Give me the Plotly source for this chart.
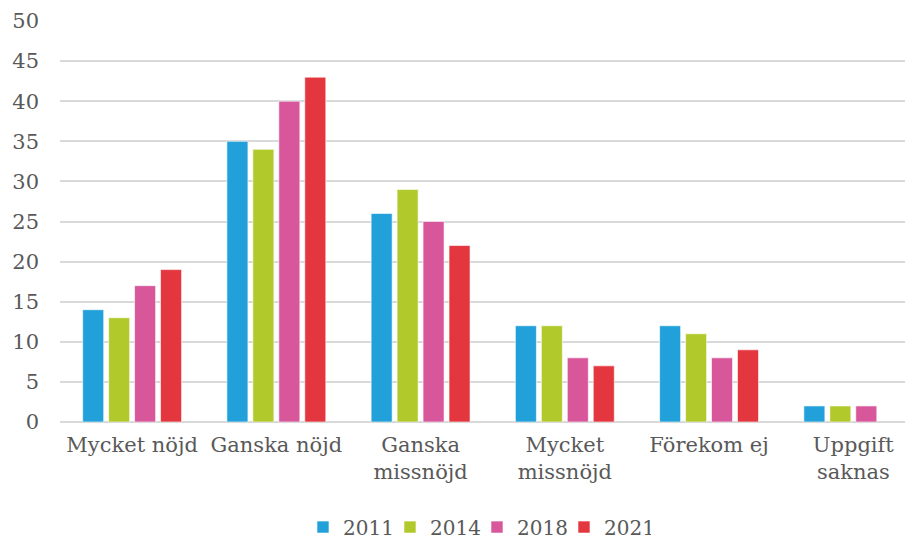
import plotly.graph_objects as go

categories = ["Mycket nöjd", "Ganska nöjd", "Ganska<br>missnöjd", "Mycket<br>missnöjd", "Förekom ej", "Uppgift<br>saknas"]
years = ["2011", "2014", "2018", "2021"]
v2011 = [14, 35, 26, 12, 12, 2]
v2014 = [13, 34, 29, 12, 11, 2]
v2018 = [17, 40, 25, 8, 8, 2]
v2021 = [19, 43, 22, 7, 9, None]
series = [v2011, v2014, v2018, v2021]
colors = ["#22a0d9", "#b1c92b", "#d8569a", "#e3363f"]

fig = go.Figure()
for name, vals, col in zip(years, series, colors):
    fig.add_trace(go.Bar(x=categories, y=vals, name=name,
                         marker=dict(color=col, line=dict(color="rgba(255,255,255,0.6)", width=1))))

font = dict(family="DejaVu Serif", size=21, color="#595959")
fig.update_layout(
    width=905, height=532,
    margin=dict(l=52, r=2, t=13, b=118, autoexpand=False),
    paper_bgcolor="white", plot_bgcolor="white",
    font=font,
    barmode="group", bargap=0.28, bargroupgap=0.19,
    showlegend=True,
    legend=dict(orientation="h", x=0.49, xanchor="center", y=-0.262, yanchor="middle",
                font=dict(family="DejaVu Serif", size=20, color="#595959"),
                itemwidth=30, entrywidth=42, entrywidthmode="pixels", traceorder="normal"),
    xaxis=dict(range=[-0.5, 5.4], showgrid=False, showline=False, zeroline=False,
               ticks="", tickfont=font, ticklabelstandoff=8, automargin=False),
    yaxis=dict(range=[0, 50], dtick=5, showgrid=True, gridcolor="#d9d9d9", gridwidth=1.5,
               zeroline=True, zerolinecolor="#d9d9d9", zerolinewidth=1.5,
               showline=False, ticks="", tickfont=font, ticklabelstandoff=20, automargin=False),
)
fig.write_html("out.html")
